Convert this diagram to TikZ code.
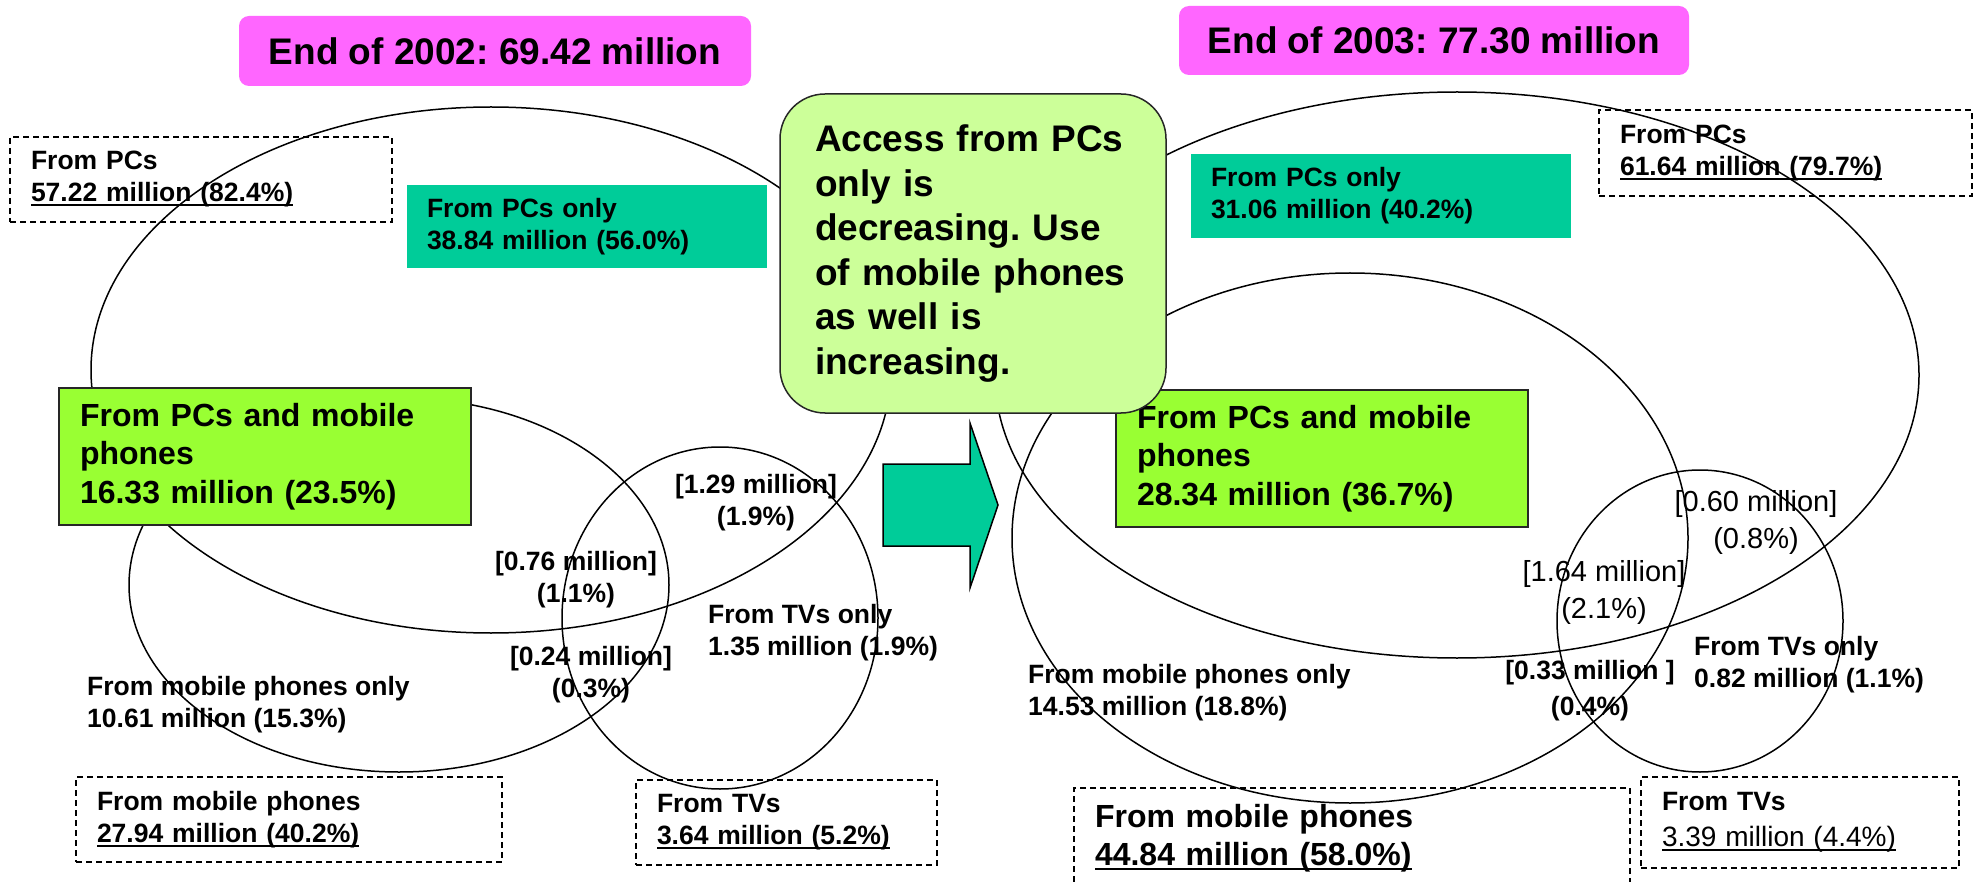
\documentclass[tikz,border=0pt]{standalone}
\usepackage{fontspec}
\setmainfont{Liberation Sans}
\usepackage{tikz}
\usetikzlibrary{positioning}
\definecolor{yearpink}{HTML}{FF66FF}
\definecolor{onlyteal}{HTML}{00CC99}
\definecolor{bothgreen}{HTML}{99FF33}
\definecolor{notegreen}{HTML}{CCFF99}
\newcommand{\numline}[1]{\leavevmode\setbox0\hbox{#1}\rlap{\rule[-4.5pt]{\wd0}{2pt}}\box0}
\frenchspacing
\tikzset{
  smalltxt/.style={font=\fontsize{26.5}{32}\selectfont\bfseries},
  midtxt/.style={font=\fontsize{32}{38.4}\selectfont\bfseries},
  bigtxt/.style={font=\fontsize{37}{44.5}\selectfont\bfseries},
  thintxt/.style={font=\fontsize{29}{37}\selectfont},
  setring/.style={draw=black, line width=1.5pt},
  yearbox/.style={bigtxt, fill=yearpink, rounded corners=10pt},
  totalbox/.style={smalltxt, draw=black, line width=1.5pt, dash pattern=on 6pt off 4pt,
    inner xsep=21pt, align=left},
  onlybox/.style={smalltxt, fill=onlyteal, inner xsep=20pt, align=left},
  bothbox/.style={midtxt, fill=bothgreen, draw=black!85, line width=1.5pt,
    inner xsep=21pt, align=left},
  notebox/.style={bigtxt, fill=notegreen, draw=black!85, line width=1.5pt,
    rounded corners=45pt, inner xsep=35pt, align=left},
  cutlabel/.style={smalltxt, inner sep=0pt, align=center, anchor=base},
  sidelabel/.style={smalltxt, inner sep=0pt, align=left, anchor=base west},
}

\begin{document}
\begin{tikzpicture}[x=1pt, y=-1pt]
  \path[use as bounding box, fill=white] (0,0) rectangle (1981,882);

  % sets, end of 2002
  \draw[setring] (491,370) ellipse [x radius=400, y radius=263];
  \draw[setring] (399,585) ellipse [x radius=270, y radius=187];
  \draw[setring] (720,618) ellipse [x radius=158, y radius=171];
  % sets, end of 2003
  \draw[setring] (1457,375) ellipse [x radius=462, y radius=283];
  \draw[setring] (1350,538) ellipse [x radius=338, y radius=265];
  \draw[setring] (1700,621) ellipse [x radius=143, y radius=151];

  % arrow between the years
  \draw[fill=onlyteal, line width=1.5pt, line join=miter]
    (883,464) -- (970,464) -- (970,423) -- (998,505) -- (970,588)
    -- (970,546) -- (883,546) -- cycle;

  \node[yearbox, minimum width=512pt, minimum height=70pt] (year02) at (495,51)
    {End of 2002: 69.42 million};
  \node[yearbox, minimum width=510pt, minimum height=69pt] (year03) at (1434,40.5)
    {End of 2003: 77.30 million};

  \node[totalbox, text width=340pt, minimum height=85pt] (pctot02) at (201,179.5)
    {From PCs\\\numline{57.22 million (82.4\%)}};
  \node[totalbox, text width=384pt, minimum height=85pt] (mobtot02) at (289,819.5)
    {From mobile phones\\\numline{27.94 million (40.2\%)}};
  \node[totalbox, text width=259pt, minimum height=85pt] (tvtot02) at (786.5,822.5)
    {From TVs\\\numline{3.64 million (5.2\%)}};
  \node[totalbox, text width=331pt, minimum height=86pt] (pctot03) at (1785.5,153)
    {From PCs\\\numline{61.64 million (79.7\%)}};
  \node[totalbox, midtxt, text width=514pt, minimum height=100pt] (mobtot03) at (1352,838)
    {From mobile phones\\\numline{44.84 million (58.0\%)}};
  \node[totalbox, text width=276pt, minimum height=91pt] (tvtot03) at (1800,822.5)
    {From TVs\\[4pt]\fontsize{28}{32}\mdseries\selectfont\numline{3.39 million (4.4\%)}};

  \node[onlybox, text width=320pt, minimum height=83pt] (pconly02) at (587,226.5)
    {From PCs only\\38.84 million (56.0\%)};
  \node[onlybox, text width=340pt, minimum height=84pt] (pconly03) at (1381,196)
    {From PCs only\\31.06 million (40.2\%)};

  \node[bothbox, text width=370pt, minimum height=137pt] (both02) at (265,456.5)
    {From PCs and mobile\\phones\\16.33 million (23.5\%)};
  \node[bothbox, text width=370pt, minimum height=137pt] (both03) at (1322,458.5)
    {From PCs and mobile\\phones\\28.34 million (36.7\%)};

  \node[notebox, text width=316pt, minimum height=319pt] (trend) at (973,253.5)
    {Access from PCs\\only is\\decreasing. Use\\of mobile phones\\as well is\\increasing.};

  % overlaps and single sets, 2002
  \node[cutlabel] (pctv02) at (756,525) {[1.29 million]\\(1.9\%)};
  \node[cutlabel] (all02) at (576,602) {[0.76 million]\\(1.1\%)};
  \node[cutlabel] (mobtv02) at (591,697) {[0.24 million]\\(0.3\%)};
  \node[sidelabel] (tvonly02) at (708,655) {From TVs only\\1.35 million (1.9\%)};
  \node[sidelabel] (mobonly02) at (87,727) {From mobile phones only\\10.61 million (15.3\%)};

  % overlaps and single sets, 2003
  \node[cutlabel, thintxt] (pctv03) at (1756,548) {[0.60 million]\\(0.8\%)};
  \node[cutlabel, thintxt] (all03) at (1604,618) {[1.64 million]\\(2.1\%)};
  \node[cutlabel, font=\fontsize{26.5}{36}\selectfont\bfseries] (mobtv03) at (1590,715)
    {[0.33 million ]\\(0.4\%)};
  \node[sidelabel] (tvonly03) at (1694,687) {From TVs only\\0.82 million (1.1\%)};
  \node[sidelabel] (mobonly03) at (1028,715) {From mobile phones only\\14.53 million (18.8\%)};
\end{tikzpicture}
\end{document}
